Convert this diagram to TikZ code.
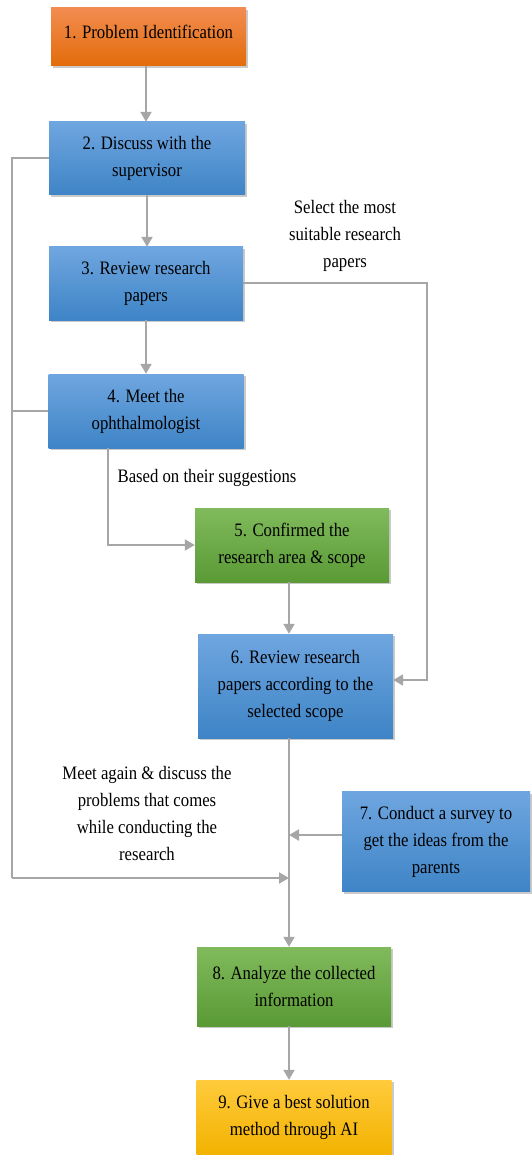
\documentclass[tikz,border=0pt]{standalone}
\usepackage{fontspec}
\setmainfont{Liberation Serif}[FakeStretch=0.88]
\usetikzlibrary{arrows.meta,shadows}
\definecolor{lnc}{HTML}{A6A6A6}
\definecolor{orT}{HTML}{F28C50}
\definecolor{orB}{HTML}{E36C0A}
\definecolor{blT}{HTML}{6FA6E0}
\definecolor{blB}{HTML}{3E84C6}
\definecolor{grT}{HTML}{80BA5C}
\definecolor{grB}{HTML}{5A9A35}
\definecolor{ylT}{HTML}{FFCB3C}
\definecolor{ylB}{HTML}{F2B200}
\tikzset{
  box/.style={rectangle, inner sep=2pt, align=center, text=black,
    font=\fontsize{19}{27}\selectfont,
    drop shadow={shadow xshift=2pt, shadow yshift=-2pt, opacity=0.35, fill=black!60}},
  orbox/.style={box, top color=orT, bottom color=orB},
  blbox/.style={box, top color=blT, bottom color=blB},
  grbox/.style={box, top color=grT, bottom color=grB},
  ylbox/.style={box, top color=ylT, bottom color=ylB},
  lbl/.style={align=center, text=black, font=\fontsize{19}{27}\selectfont},
  conn/.style={draw=lnc, line width=2pt},
  arr/.style={conn, -{Triangle[length=10pt,width=11pt]}}
}
\begin{document}
\begin{tikzpicture}[x=1pt,y=-1pt]
\useasboundingbox (0,0) rectangle (532,1155);
\node[orbox, minimum width=195pt, minimum height=58pt] (b1) at (148.5,37) {\raisebox{11pt}{1. Problem Identification}};
\node[blbox, minimum width=196pt, minimum height=73pt] (b2) at (147,158.5) {2. Discuss with the\\supervisor};
\node[blbox, minimum width=194pt, minimum height=73pt] (b3) at (146,283.5) {3. Review research\\papers};
\node[blbox, minimum width=195pt, minimum height=74pt] (b4) at (146,411) {4. Meet the\\ophthalmologist};
\node[grbox, minimum width=194pt, minimum height=74pt] (b5) at (292,545) {5. Confirmed the\\research area \& scope};
\node[blbox, minimum width=195pt, minimum height=104pt] (b6) at (295.5,686) {6. Review research\\papers according to the\\selected scope};
\node[blbox, minimum width=188pt, minimum height=100pt] (b7) at (436,841.5) {7. Conduct a survey to\\get the ideas from the\\parents};
\node[grbox, minimum width=194pt, minimum height=79pt] (b8) at (294,986.5) {8. Analyze the collected\\information};
\node[ylbox, minimum width=195pt, minimum height=75pt] (b9) at (294,1117.5) {9. Give a best solution\\method through AI};

\node[lbl] (t1) at (345,236) {Select the most\\suitable research\\papers};
\node[lbl] (t2) at (207,478) {Based on their suggestions};
\node[lbl] (t3) at (147,813.5) {Meet again \& discuss the\\problems that comes\\while conducting the\\research};

\coordinate (m7) at (289,835);
\coordinate (m9) at (289,878);
\coordinate (lb) at (12,878);
\coordinate (r3) at (427,283.5);

\draw[arr] ([xshift=-2.5pt]b1.south) -- ([xshift=-2.5pt]b1.south |- b2.north);
\draw[arr] (b2.south) -- (b2.south |- b3.north);
\draw[arr] (b3.south) -- (b3.south |- b4.north);
\draw[arr] ([xshift=-38pt]b4.south) |- (b5.west);
\draw[arr] (b3.east) -- (r3) |- ([yshift=6pt]b6.east);
\draw[arr] (b5.south -| m7) -- (b6.north -| m7);
\draw[arr] (b6.south -| m7) -- (b8.north -| m7);
\draw[arr] (b7.west |- m7) -- (m7);
\draw[conn] (b2.west) -| (lb);
\draw[conn] (b4.west) -- (b4.west -| lb);
\draw[arr] (lb) -- (m9);
\draw[arr] (b8.south -| m7) -- (b9.north -| m7);
\end{tikzpicture}
\end{document}
